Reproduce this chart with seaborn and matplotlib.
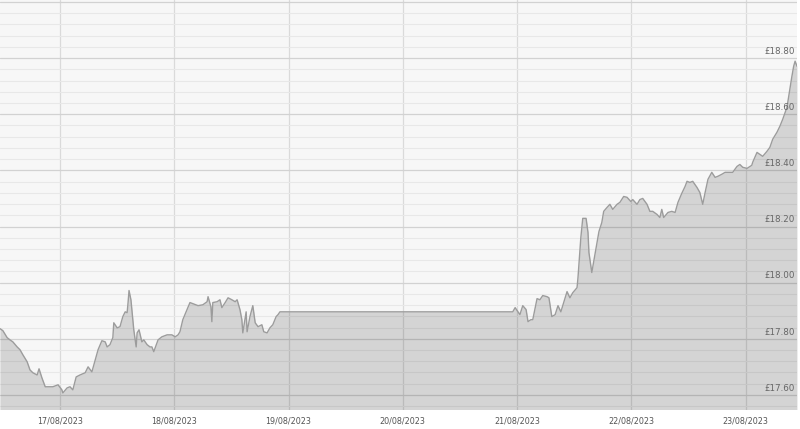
import numpy as np
import pandas as pd
import matplotlib
matplotlib.use("Agg")
import matplotlib.pyplot as plt
import matplotlib.dates as mdates
import seaborn as sns

# hours since 2023-08-16 00:00
hours = [11.4, 12.0, 12.9, 13.5, 14.1, 15.0, 15.6, 16.2, 17.1, 17.7, 18.3, 19.2, 19.6, 20.2, 20.9, 21.5,
         22.5, 23.6, 24.4, 24.6, 25.5, 26.1, 26.7, 27.4, 28.2, 29.3, 29.9, 30.7, 31.4, 32.0, 32.8, 33.5,
         33.9, 34.5, 35.1, 35.3, 36.0, 36.6, 37.2, 37.7, 38.1, 38.3, 38.5, 38.9, 39.3, 39.5, 40.0, 40.2,
         40.6, 41.2, 41.6, 42.3, 42.9, 43.3, 43.7, 44.6, 45.4, 46.5, 47.5, 48.2, 48.8, 49.2, 49.8, 50.7,
         51.3, 51.9, 53.0, 54.0, 54.9, 55.1, 55.7, 55.9, 56.1, 57.0, 57.6, 58.0, 58.7, 59.3, 60.1, 60.8,
         61.2, 61.8, 62.2, 62.4, 63.1, 63.3, 63.9, 64.5, 65.0, 65.6, 66.4, 66.8, 67.5, 68.1, 68.7, 69.4,
         69.8, 70.2, 119.1, 119.6, 120.2, 120.6, 121.2, 121.9, 122.3, 122.9, 123.3, 124.2, 124.8, 125.4,
         126.3, 126.7, 127.3, 128.0, 128.6, 129.2, 129.8, 130.5, 131.1, 131.7, 132.6, 132.8, 133.4, 133.8,
         134.5, 134.9, 135.1, 135.7, 136.1, 136.8, 137.2, 137.8, 138.2, 138.9, 139.5, 140.1, 141.0, 141.6,
         142.4, 143.1, 143.9, 144.3, 145.2, 145.8, 146.4, 147.3, 147.9, 148.5, 149.4, 150.0, 150.4, 150.8,
         151.7, 152.5, 153.2, 153.8, 154.6, 155.3, 155.7, 156.3, 156.9, 157.8, 158.4, 159.0, 159.5, 160.1,
         160.9, 161.6, 162.2, 163.0, 163.7, 164.3, 165.3, 166.2, 166.8, 167.4, 168.3, 169.3, 169.5, 170.4,
         171.0, 171.6, 172.5, 173.1, 173.7, 174.6, 175.2, 175.8, 176.7, 177.3, 177.7, 178.1, 178.4, 178.8]
prices = [17.836, 17.829, 17.804, 17.796, 17.789, 17.771, 17.761, 17.743, 17.718, 17.689, 17.679, 17.671,
          17.693, 17.661, 17.629, 17.629, 17.629, 17.636, 17.618, 17.607, 17.625, 17.629, 17.618, 17.664,
          17.671, 17.679, 17.700, 17.682, 17.725, 17.761, 17.793, 17.789, 17.771, 17.779, 17.804, 17.857,
          17.839, 17.843, 17.879, 17.896, 17.893, 17.929, 17.972, 17.939, 17.868, 17.832, 17.771, 17.821,
          17.832, 17.789, 17.796, 17.779, 17.771, 17.771, 17.754, 17.796, 17.807, 17.814, 17.814, 17.807,
          17.814, 17.825, 17.868, 17.904, 17.929, 17.925, 17.918, 17.921, 17.932, 17.950, 17.914, 17.861,
          17.929, 17.932, 17.939, 17.911, 17.929, 17.946, 17.939, 17.932, 17.939, 17.904, 17.868, 17.821,
          17.896, 17.825, 17.879, 17.918, 17.857, 17.843, 17.850, 17.825, 17.821, 17.839, 17.850, 17.879,
          17.886, 17.896, 17.896, 17.911, 17.896, 17.886, 17.918, 17.904, 17.861, 17.868, 17.868, 17.943,
          17.939, 17.954, 17.950, 17.946, 17.879, 17.886, 17.918, 17.896, 17.929, 17.968, 17.946, 17.964,
          17.982, 18.018, 18.161, 18.229, 18.229, 18.179, 18.107, 18.036, 18.075, 18.143, 18.182, 18.214,
          18.254, 18.268, 18.279, 18.261, 18.279, 18.286, 18.307, 18.304, 18.289, 18.296, 18.279, 18.296,
          18.300, 18.279, 18.254, 18.254, 18.243, 18.232, 18.261, 18.232, 18.250, 18.254, 18.250, 18.286,
          18.318, 18.343, 18.361, 18.357, 18.361, 18.339, 18.321, 18.279, 18.321, 18.368, 18.393, 18.375,
          18.379, 18.386, 18.393, 18.393, 18.393, 18.414, 18.421, 18.411, 18.407, 18.418, 18.429, 18.464,
          18.457, 18.450, 18.468, 18.482, 18.511, 18.536, 18.557, 18.582, 18.625, 18.689, 18.732, 18.771,
          18.789, 18.771]

date_ticks = ["2023-08-17", "2023-08-18", "2023-08-19", "2023-08-20", "2023-08-21", "2023-08-22", "2023-08-23"]
price_ticks = [17.60, 17.80, 18.00, 18.20, 18.40, 18.60, 18.80]
grid_major = [17.60, 17.80, 18.00, 18.20, 18.40, 18.60, 18.80, 19.00]
y_range = [17.548, 19.007]

start = pd.Timestamp("2023-08-16")
df = pd.DataFrame({"time": start + pd.to_timedelta(hours, unit="h"), "price": prices})

sns.set_theme(style="white")
plt.rcParams["font.family"] = ["DejaVu Sans"]

fig = plt.figure(figsize=(8, 4.29), dpi=100)
ax = fig.add_axes([0, 19.5 / 429, 797 / 800, 1 - 19.5 / 429])
ax.set_facecolor("#f7f7f7")

ax.set_ylim(*y_range)
ax.set_xlim(df["time"].iloc[0], df["time"].iloc[-1])

# grid
ax.set_yticks(grid_major)
ax.set_yticks(np.arange(17.56, 19.0, 0.04), minor=True)
ax.grid(which="minor", axis="y", color="#e8e8e8", linewidth=0.8, zorder=0)
ax.grid(which="major", axis="y", color="#d2d2d2", linewidth=0.9, zorder=0)
ax.set_xticks(pd.to_datetime(date_ticks))
ax.grid(which="major", axis="x", color="#dadada", linewidth=0.9, zorder=0)
ax.set_axisbelow(True)

ax.fill_between(df["time"], df["price"], y_range[0], color="black", alpha=0.14, linewidth=0, zorder=2)
sns.lineplot(data=df, x="time", y="price", ax=ax, color="#9c9c9c", linewidth=1.0, zorder=3)

ax.xaxis.set_major_formatter(mdates.DateFormatter("%d/%m/%Y"))
ax.tick_params(axis="x", length=0, pad=5, labelsize=5.8, labelcolor="#555555")
ax.tick_params(axis="y", which="both", length=0, labelleft=False, labelright=False)
ax.set_xlabel("")
ax.set_ylabel("")
for s in ax.spines.values():
    s.set_visible(False)

trans = matplotlib.transforms.blended_transform_factory(ax.transAxes, ax.transData)
for v in price_ticks:
    ax.text(0.997, v + 0.008, f"£{v:.2f}", transform=trans, ha="right", va="bottom",
            fontsize=6.3, color="#666666", zorder=5)

fig.savefig("out.png", dpi=100, facecolor="white")
